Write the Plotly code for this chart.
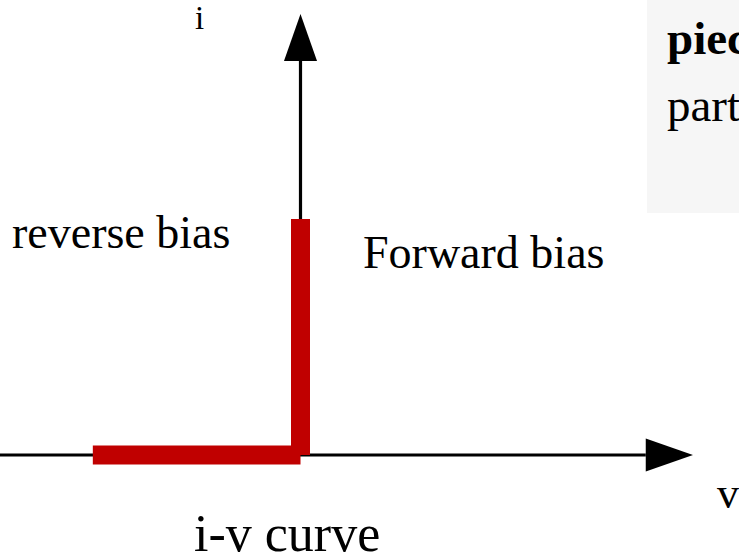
import plotly.graph_objects as go

# ---- data (v in arbitrary units, i in arbitrary units; knee at origin) ----
reverse_v = [-8.8, 0.0]
reverse_i = [0.0, 0.0]
forward_v = [0.0, 0.0]
forward_i = [0.0, 10.0]

# axis extents (start, arrow tip) in data units
v_axis = [-12.75, 16.63]
i_axis = [0.0, 18.69]
head_len = 2.0
head_half = 0.70

labels = ["i", "reverse bias", "Forward bias", "v", "i-v curve"]

W, H = 739, 557
X0, Y0 = 300.5, 455.0   # pixel location of origin
K = 23.6                # pixels per unit
xr = [-X0 / K, (W - X0) / K]
yr = [-(H - Y0) / K, Y0 / K]

fig = go.Figure()

AX = dict(color="black", width=3.2)
# horizontal axis line + arrowhead
fig.add_trace(go.Scatter(x=[v_axis[0], v_axis[1] - head_len], y=[0, 0],
                         mode="lines", line=AX, hoverinfo="skip"))
fig.add_trace(go.Scatter(x=[v_axis[1] - head_len, v_axis[1], v_axis[1] - head_len, v_axis[1] - head_len],
                         y=[head_half, 0, -head_half, head_half],
                         mode="lines", fill="toself", fillcolor="black",
                         line=dict(color="black", width=0), hoverinfo="skip"))
# vertical axis line + arrowhead
fig.add_trace(go.Scatter(x=[0, 0], y=[i_axis[0], i_axis[1] - head_len],
                         mode="lines", line=AX, hoverinfo="skip"))
fig.add_trace(go.Scatter(x=[-head_half, 0, head_half, -head_half],
                         y=[i_axis[1] - head_len, i_axis[1], i_axis[1] - head_len, i_axis[1] - head_len],
                         mode="lines", fill="toself", fillcolor="black",
                         line=dict(color="black", width=0), hoverinfo="skip"))

RED = dict(color="#c00000", width=19)
fig.add_trace(go.Scatter(x=reverse_v, y=reverse_i, mode="lines", line=RED, hoverinfo="skip"))
fig.add_trace(go.Scatter(x=forward_v, y=forward_i, mode="lines", line=RED, hoverinfo="skip"))

# light grey box top-right
fig.add_shape(type="rect", xref="paper", yref="paper",
              x0=647 / W, x1=1.02, y0=1 - 213 / H, y1=1.02,
              fillcolor="#f6f6f6", line=dict(width=0), layer="below")

SERIF = "Liberation Serif, Times New Roman, serif"

def ann(text, px, py_center, size, bold=False):
    fig.add_annotation(xref="paper", yref="paper", x=px / W, y=1 - py_center / H,
                       xanchor="left", yanchor="middle", showarrow=False,
                       text=("<b>%s</b>" % text) if bold else text,
                       font=dict(family=SERIF, size=size, color="black"))

ann(labels[0], 192.5, 17.9, 33)
ann(labels[1], 10, 232.8, 46)
ann(labels[2], 360.5, 252.8, 46)
ann(labels[3], 715, 493.2, 44)
ann(labels[4], 192, 533.5, 52)
ann("piecewise", 665, 38.5, 47, bold=True)
ann("part", 665, 105.0, 47)

fig.update_layout(width=W, height=H, margin=dict(l=0, r=0, t=0, b=0),
                  paper_bgcolor="white", plot_bgcolor="white", showlegend=False,
                  xaxis=dict(range=xr, visible=False, fixedrange=True),
                  yaxis=dict(range=yr, visible=False, fixedrange=True))

fig.write_html("out.html", config={"displayModeBar": False, "staticPlot": True},
               post_script="document.body.style.margin='0';document.body.style.overflow='hidden';")
